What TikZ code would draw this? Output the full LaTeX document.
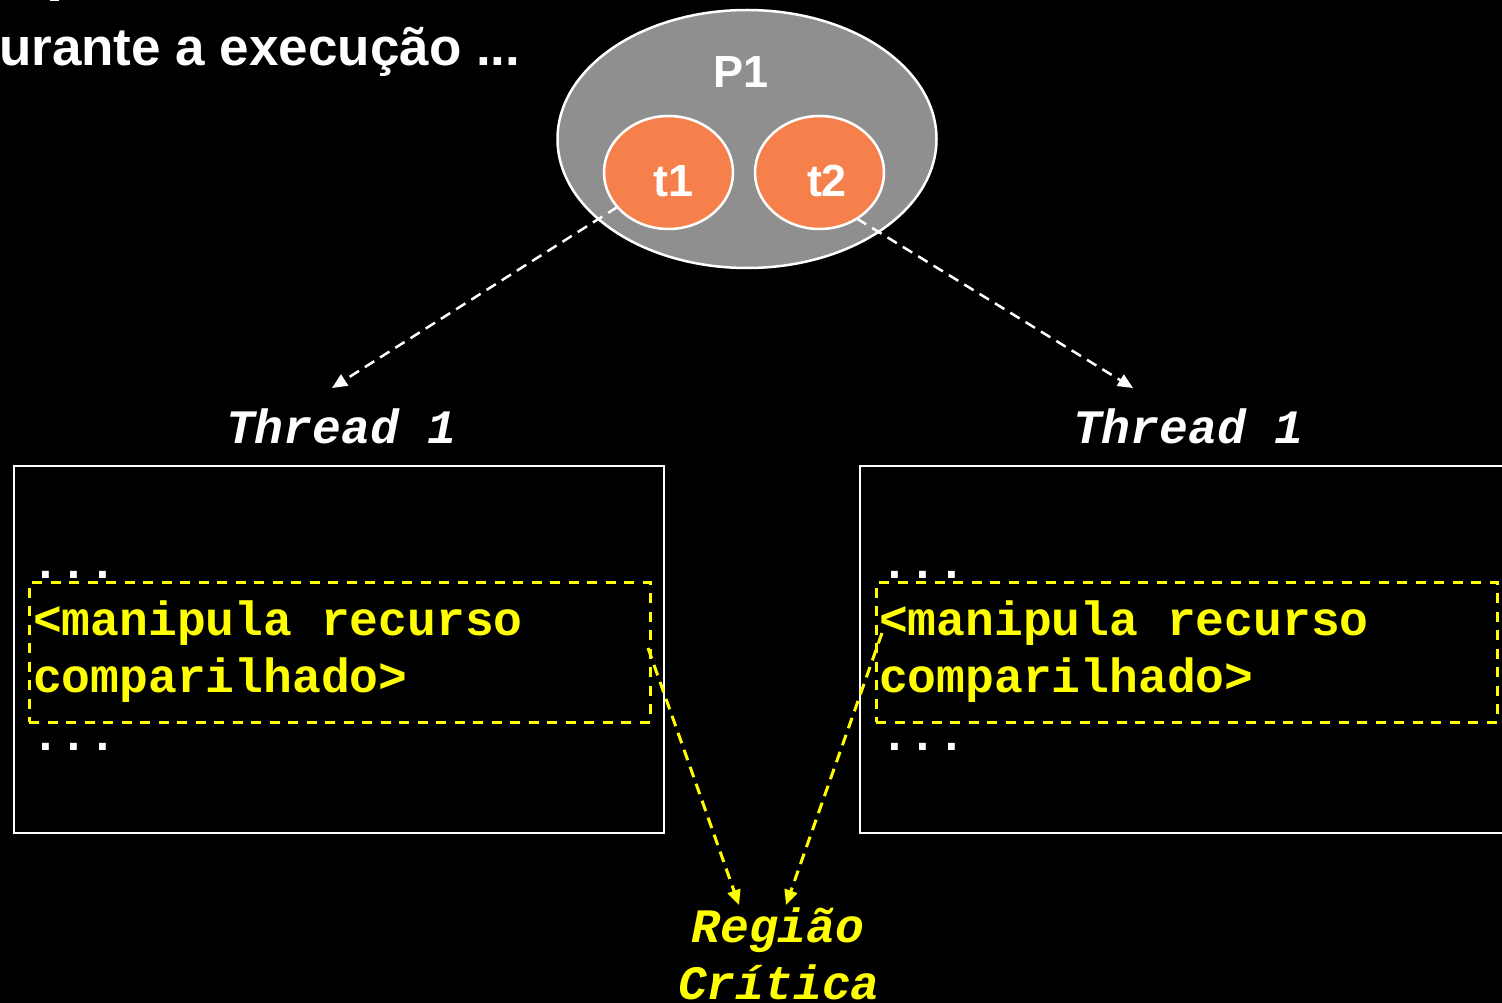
\documentclass[tikz,border=0pt]{standalone}
\usepackage{fontspec}
\setmainfont{Liberation Sans}
\newfontfamily\codefont{Liberation Mono}
\usetikzlibrary{shapes.geometric,arrows.meta,calc}
\definecolor{procgray}{RGB}{143,143,143}
\definecolor{throrange}{RGB}{245,128,76}
\definecolor{crityellow}{RGB}{255,255,0}

\begin{document}
\begin{tikzpicture}[x=1pt,y=-1pt,
  every node/.style={inner sep=0pt, outer sep=0pt},
  headline/.style={text=white, font=\fontsize{53}{60}\selectfont\bfseries},
  procnode/.style={ellipse, draw=white, line width=2.5pt, fill=procgray,
    minimum width=379pt, minimum height=258pt},
  thrnode/.style={ellipse, draw=white, line width=2.5pt, fill=throrange,
    minimum width=129pt, minimum height=113pt},
  bigsans/.style={text=white, font=\fontsize{45}{50}\selectfont\bfseries},
  threadlabel/.style={text=white, font=\codefont\fontsize{48}{57}\selectfont\bfseries\itshape},
  codeline/.style={text=crityellow, font=\codefont\fontsize{48}{57}\selectfont\bfseries},
  dotsline/.style={text=white, font=\codefont\fontsize{48}{57}\selectfont\bfseries},
  critlabel/.style={text=crityellow, font=\codefont\fontsize{48}{57}\selectfont\bfseries\itshape},
  codebox/.style={rectangle, draw=white, line width=2.5pt,
    minimum width=650pt, minimum height=367pt},
  critbox/.style={rectangle, draw=crityellow, line width=3pt,
    dash pattern=on 10pt off 8.5pt, minimum width=621pt, minimum height=140pt},
  whitearrow/.style={draw=white, line width=2.5pt, dash pattern=on 11pt off 7pt,
    -{Triangle[length=15pt,width=13pt,fill=white]}},
  yellowarrow/.style={draw=crityellow, line width=3pt, dash pattern=on 11pt off 7pt,
    -{Triangle[length=15pt,width=13pt,fill=crityellow]}}
]
% page and background
\fill[black] (0,0) rectangle (1502,1003);
\useasboundingbox (0,0) rectangle (1502,1003);
\clip (0,0) rectangle (1502,1003);

% heading
\fill[white] (50,0) rectangle (59,1.5);
\node[headline, anchor=base west] (head) at (-1,66) {urante a execução ...};

% process with its two threads
\node[procnode] (p1) at (747,139) {};
\node[bigsans, anchor=base] (p1txt) at (741,88) {P1};
\node[thrnode] (t1) at (668.5,172.5) {};
\node[thrnode] (t2) at (819.5,172.5) {};
\node[bigsans, anchor=base] (t1txt) at (673.5,197) {t1};
\node[bigsans, anchor=base] (t2txt) at (827,197) {t2};

% thread code listings
\node[threadlabel, anchor=base west] (th1) at (226,443) {Thread 1};
\node[threadlabel, anchor=base west] (th2) at (1073,443) {Thread 1};
\node[codebox] (box1) at (339,649.5) {};
\node[codebox] (box2) at (1185,649.5) {};

\node[critbox] (cs1) at (339.5,652) {};
\node[critbox] (cs2) at (1186.5,652) {};

\node[dotsline, anchor=base west] (d1a) at (31,578) {...};
\node[codeline, anchor=base west] (c1a) at (33,635) {<manipula recurso};
\node[codeline, anchor=base west] (c1b) at (33,692) {comparilhado>};
\node[dotsline, anchor=base west] (d1b) at (31,750) {...};

\node[dotsline, anchor=base west] (d2a) at (880,578) {...};
\node[codeline, anchor=base west] (c2a) at (879,635) {<manipula recurso};
\node[codeline, anchor=base west] (c2b) at (879,692) {comparilhado>};
\node[dotsline, anchor=base west] (d2b) at (880,750) {...};

% critical region label
\node[critlabel, anchor=base] (rc1) at (778,942) {Região};
\node[critlabel, anchor=base] (rc2) at (779,999) {Crítica};

% connectors
\coordinate (tip1) at (332,388);
\coordinate (tip2) at (1133,388);
\coordinate (rtip1) at (739,905);
\coordinate (rtip2) at (786,905);
\draw[whitearrow] (t1.214) -- (tip1);
\draw[whitearrow] (t2.309) -- (tip2);
\draw[yellowarrow] ($(cs1.east)+(-2,-4)$) -- (rtip1);
\draw[yellowarrow] ($(cs2.west)+(6,-19)$) -- (rtip2);
\end{tikzpicture}
\end{document}
